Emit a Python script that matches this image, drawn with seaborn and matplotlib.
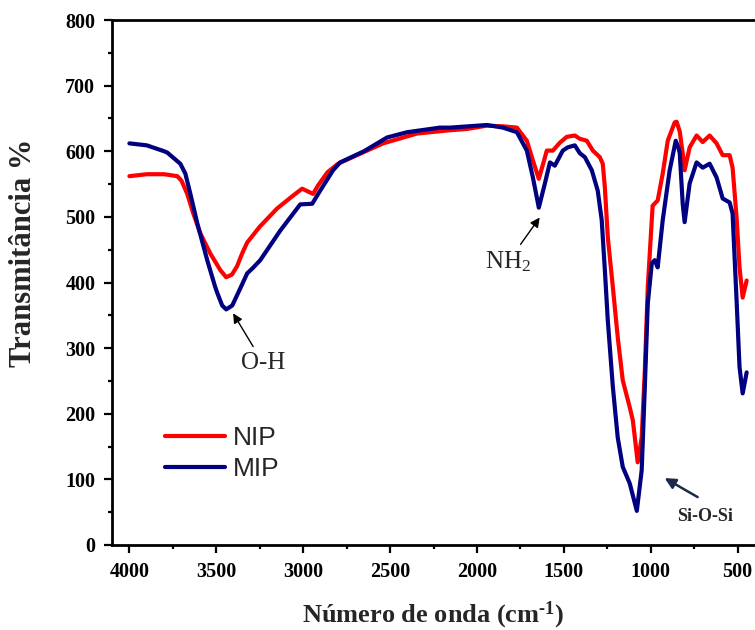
import numpy as np
import pandas as pd
import matplotlib
matplotlib.use("Agg")
import matplotlib.pyplot as plt
import seaborn as sns
from matplotlib.ticker import MultipleLocator

# FTIR spectra (wavenumber in cm^-1, transmittance)
nip_wavenumber = [4000, 3900, 3800, 3724, 3700, 3667, 3632, 3592, 3534, 3477, 3443, 3410,
                  3380, 3350, 3322, 3250, 3149, 3060, 3006, 2943, 2914, 2860, 2799, 2700,
                  2540, 2345, 2155, 2057, 1943, 1850, 1770, 1713, 1678, 1644, 1620, 1598,
                  1563, 1523, 1483, 1437, 1408, 1368, 1333, 1293, 1276, 1264, 1247, 1218,
                  1190, 1161, 1121, 1103, 1075, 1052, 1034, 1017, 994, 989, 960, 931, 902,
                  862, 851, 833, 815, 805, 776, 736, 701, 661, 621, 586, 546, 529, 506,
                  489, 471, 448]
nip_transmittance = [562, 565, 565, 562, 555, 535, 505, 475, 444, 419, 408, 412,
                     425, 445, 461, 485, 513, 532, 543, 535, 548, 568, 581, 593,
                     612, 627, 632, 634, 639, 638, 636, 616, 586, 558, 580, 601,
                     601, 613, 622, 624, 619, 616, 601, 591, 581, 545, 469, 393,
                     317, 251, 210, 190, 126, 164, 266, 393, 495, 517, 525, 566, 616,
                     644, 645, 630, 595, 571, 606, 624, 614, 624, 612, 594, 594, 575, 499,
                     423, 377, 403]

mip_wavenumber = [4000, 3900, 3800, 3782, 3707, 3678, 3649, 3609, 3552, 3506, 3494, 3466,
                  3443, 3408, 3362, 3322, 3290, 3247, 3132, 3017, 2948, 2902, 2828, 2787,
                  2650, 2517, 2402, 2213, 2155, 1943, 1850, 1770, 1713, 1678, 1644, 1609,
                  1580, 1552, 1506, 1477, 1437, 1408, 1379, 1339, 1305, 1282, 1264, 1247,
                  1218, 1190, 1161, 1121, 1080, 1052, 1034, 1017, 994, 977, 960, 931, 891,
                  856, 840, 833, 816, 805, 776, 736, 701, 661, 621, 586, 546, 529, 506,
                  489, 471, 448]
mip_transmittance = [612, 609, 600, 598, 581, 566, 535, 490, 434, 393, 384, 365,
                     359, 365, 391, 414, 422, 434, 479, 519, 520, 540, 571, 583,
                     600, 621, 629, 636, 636, 640, 636, 629, 601, 560, 514, 551,
                     583, 578, 601, 606, 609, 597, 591, 571, 540, 495, 419, 342,
                     241, 164, 119, 94, 52, 114, 241, 368, 429, 434, 423, 495, 571,
                     616, 605, 597, 520, 492, 551, 583, 575, 581, 560, 528, 522, 505, 373,
                     271, 231, 263]

samples = ["NIP", "MIP"]
colors = {"NIP": "#ff0000", "MIP": "#000080"}

x_ticks = [4000, 3500, 3000, 2500, 2000, 1500, 1000, 500]
y_ticks = [0, 100, 200, 300, 400, 500, 600, 700, 800]

df = pd.concat([
    pd.DataFrame({"wavenumber": nip_wavenumber, "T": nip_transmittance, "sample": "NIP"}),
    pd.DataFrame({"wavenumber": mip_wavenumber, "T": mip_transmittance, "sample": "MIP"}),
], ignore_index=True)

sns.set_style("ticks")
plt.rcParams["font.family"] = ["Liberation Serif", "DejaVu Serif"]
plt.rcParams["mathtext.fontset"] = "custom"
plt.rcParams["mathtext.rm"] = "Liberation Serif"
plt.rcParams["mathtext.it"] = "Liberation Serif:italic"
plt.rcParams["mathtext.bf"] = "Liberation Serif:bold"

fig = plt.figure(figsize=(7.55, 6.30), dpi=100)
ax = fig.add_axes([112 / 755, 85 / 630, 643 / 755, 525 / 630])

sns.lineplot(data=df, x="wavenumber", y="T", hue="sample", hue_order=samples,
             palette=colors, sort=False, estimator=None, linewidth=3.0, ax=ax)
for line in ax.get_lines():
    line.set_solid_joinstyle("round")
    line.set_solid_capstyle("round")

ax.set_xlim(4100, 400)
ax.set_ylim(0, 800)
ax.set_xticks(x_ticks)
ax.set_xticklabels([str(t) for t in x_ticks])
ax.set_yticks(y_ticks)
ax.set_yticklabels([str(t) for t in y_ticks])
ax.xaxis.set_minor_locator(MultipleLocator(250))
ax.yaxis.set_minor_locator(MultipleLocator(50))

for side in ["left", "bottom", "top"]:
    ax.spines[side].set_linewidth(2.0)
    ax.spines[side].set_color("black")
ax.spines["right"].set_visible(False)
ax.tick_params(which="major", direction="out", length=6, width=1.6, colors="black")
ax.tick_params(which="minor", direction="out", length=3, width=1.6, colors="black")
ax.tick_params(axis="x", which="both", top=False)
ax.tick_params(axis="x", which="major", pad=6)
ax.tick_params(axis="y", which="major", pad=6)
for lab in ax.get_xticklabels() + ax.get_yticklabels():
    lab.set_fontweight("bold")
    lab.set_fontsize(14.5)

ax.set_xlabel("Número de onda (cm$^{\\mathbf{\u2010 1}}$)", fontsize=19, fontweight="bold")
ax.set_ylabel("Transmitância %", fontsize=22, fontweight="bold")
ax.xaxis.set_label_coords(0.5, -0.105)
ax.yaxis.set_label_coords(-0.115, 0.556)

handles, labels = ax.get_legend_handles_labels()
for h in handles:
    h.set_linewidth(3.0)
ax.legend(handles, labels, loc="upper left", bbox_to_anchor=(0.082, 0.226),
          frameon=False, prop={"family": "Liberation Sans", "size": 19},
          handlelength=2.3, handletextpad=0.3, labelspacing=0.25,
          borderpad=0, borderaxespad=0)

# Band assignments
mip_w = np.array(mip_wavenumber)
mip_t = np.array(mip_transmittance)

def band_min(lo, hi):
    m = (mip_w >= lo) & (mip_w <= hi)
    i = np.argmin(np.where(m, mip_t, np.inf))
    return mip_w[i], mip_t[i]

oh_w, oh_t = band_min(3300, 3600)
ax.annotate("O-H", xy=(oh_w - 40, oh_t - 6), xytext=(3230, 277),
            ha="center", va="center", fontsize=18,
            arrowprops=dict(arrowstyle="-|>", color="black", lw=1.0,
                            mutation_scale=14, shrinkA=2, shrinkB=0))

nh_w, nh_t = band_min(1550, 1700)
ax.annotate("NH$_2$", xy=(nh_w - 5, nh_t - 15), xytext=(1822, 431),
            ha="center", va="center", fontsize=18,
            arrowprops=dict(arrowstyle="-|>", color="black", lw=1.0,
                            mutation_scale=14, shrinkA=2, shrinkB=0))

si_w, si_t = band_min(900, 1200)
ax.annotate("", xy=(si_w - 160, si_t + 50), xytext=(si_w - 350, si_t + 21),
            arrowprops=dict(arrowstyle="-|>", color="#1c2b4a", lw=1.8,
                            mutation_scale=16, shrinkA=0, shrinkB=0))
ax.text(si_w - 390, si_t - 9, "Si-O-Si", ha="center", va="center",
        fontsize=13, fontweight="bold")

fig.savefig("out.png", dpi=100)
